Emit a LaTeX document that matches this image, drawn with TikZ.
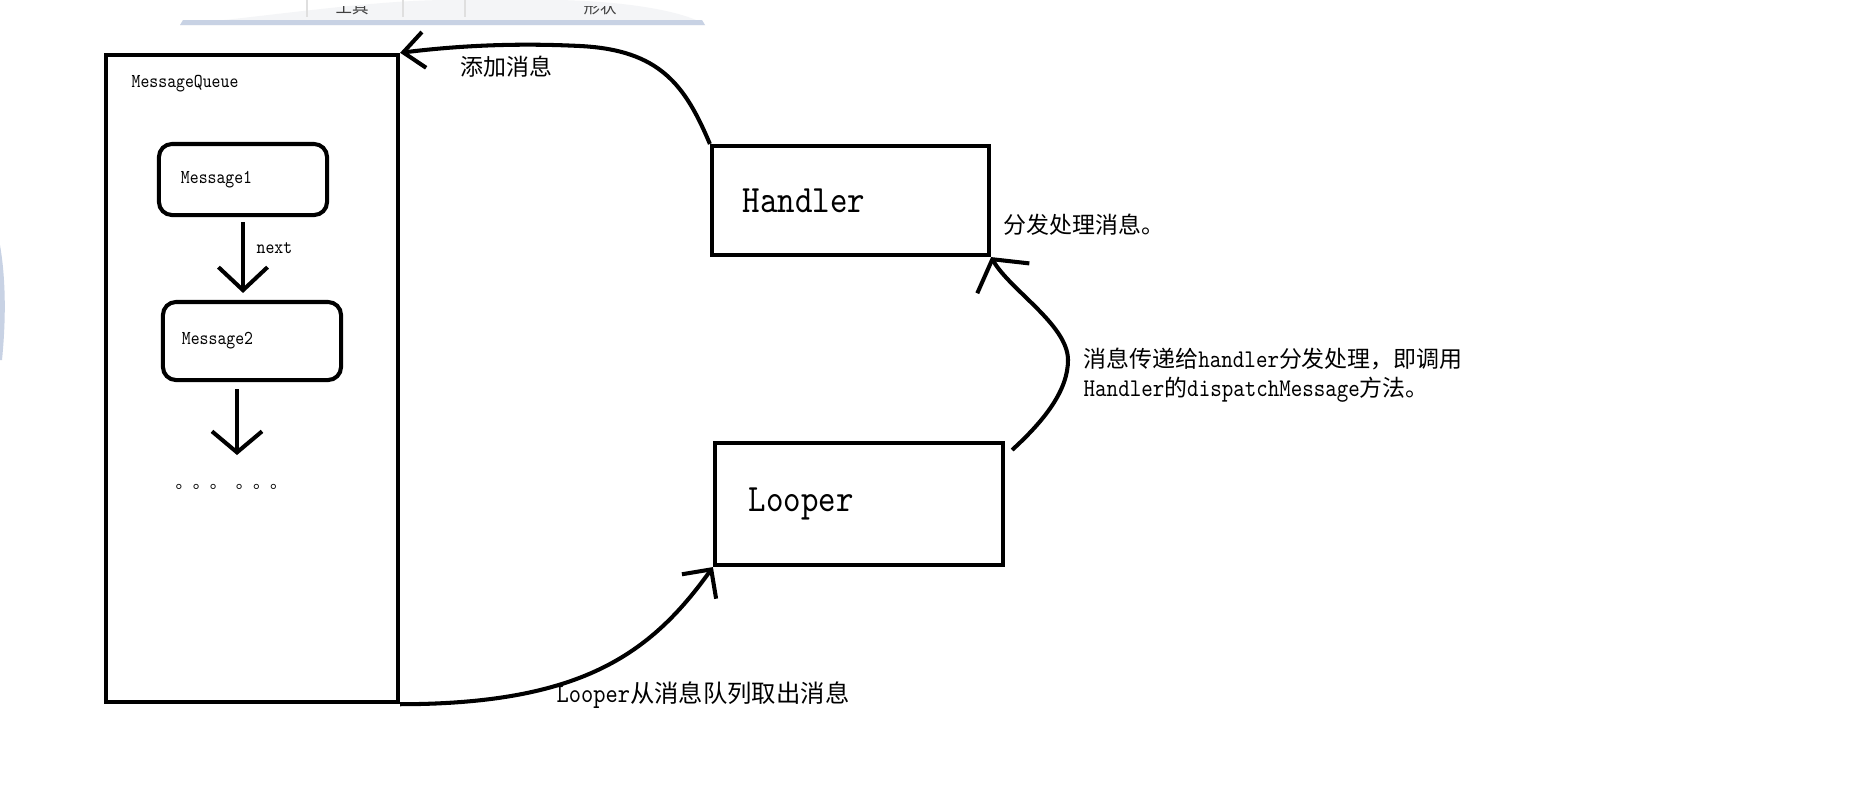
\documentclass[tikz,border=0pt]{standalone}
\usepackage{fontspec}
\setmonofont{lmmono10-regular}[Extension=.otf, FakeStretch=0.86]
\newfontfamily\cjk{Noto Sans CJK SC}[Scale=0.9]
\newcommand{\zh}[1]{{\cjk #1}}
\usetikzlibrary{arrows.meta}
\definecolor{ribbonfill}{RGB}{244,245,247}
\definecolor{ribbonedge}{RGB}{200,210,228}

\begin{document}
\begin{tikzpicture}[x = 0.01cm, y = -0.01cm,
  partbox/.style = {draw, line width = 1.15pt, align = left, inner ysep = 0},
  msgbox/.style = {partbox, rounded corners = 0.13cm, font = \ttfamily\fontsize{5.6}{6}\selectfont},
  bigbox/.style = {partbox, font = \ttfamily\fontsize{11}{12}\selectfont},
  notetext/.style = {anchor = base west, inner sep = 0, font = \ttfamily\fontsize{7.25}{8}\selectfont},
  tinytext/.style = {anchor = base west, inner sep = 0, font = \ttfamily\fontsize{5.6}{6}\selectfont},
  toollabel/.style = {anchor = base, inner sep = 0, text = black!75, font = \fontsize{5.2}{6}\selectfont},
  flowarrow/.style 2 args = {line width = 1.15pt, -{Straight Barb[length = #1, width = #2]}}]
\useasboundingbox (0, 0) rectangle (1870, 811);
\fill[white] (0, 0) rectangle (1870, 811);

% screenshot leftovers
\fill[ribbonfill] (180, 25) .. controls (300, 12) and (380, 0) .. (450, 0) -- (560, 0)
  .. controls (640, 2) and (690, 14) .. (705, 25) -- cycle;
\fill[ribbonedge] (183, 20) -- (702, 20) -- (705, 25) -- (180, 25) -- cycle;
\draw[gray!25, line width = 0.3pt] (307, 0) -- (307, 17);
\draw[gray!25, line width = 0.3pt] (403, 0) -- (403, 17);
\draw[gray!25, line width = 0.3pt] (465, 0) -- (465, 17);
\begin{scope}
\clip (180, 6) rectangle (705, 19);
\node[toollabel] (tools) at (352, 13) {\zh{工具}};
\node[toollabel] (shapes) at (600, 13) {\zh{形状}};
\end{scope}
\fill[ribbonedge] (0, 245) .. controls (6, 280) and (6, 320) .. (2, 360) -- (0, 360) -- cycle;

% message queue
\node[partbox, minimum width = 2.92cm, minimum height = 6.47cm] (queue) at (252, 378.5) {};
\node[tinytext] (queuename) at (131, 87) {MessageQueue};
\node[msgbox, text width = 1.24cm, inner xsep = 0.22cm, minimum height = 0.71cm] (msgone) at (243, 179.5) {Message1};
\node[msgbox, text width = 1.40cm, inner xsep = 0.19cm, minimum height = 0.78cm] (msgtwo) at (252, 341) {Message2};
\coordinate (more) at (237, 455);
\node[tinytext] (nextname) at (256, 253) {next};
\node[tinytext, font = \fontsize{5.4}{6}\selectfont] (dots) at (175, 488) {\zh{。。。\hspace{0.09cm}。。。}};

\draw[flowarrow = {0.23cm}{0.49cm}, shorten <= 0.05cm, shorten >= 0.07cm]
  (msgone.south) -- (msgone.south |- msgtwo.north);
\draw[flowarrow = {0.21cm}{0.50cm}, shorten <= 0.07cm] (msgtwo.south -| more) -- (more);

% handler and looper
\node[bigbox, text width = 2.15cm, inner xsep = 0.31cm, minimum height = 1.09cm] (handler) at (850.5, 200.5) {Handler};
\node[bigbox, text width = 2.20cm, inner xsep = 0.34cm, minimum height = 1.22cm] (looper) at (859, 504) {Looper};

\draw[flowarrow = {0.21cm}{0.36cm}] (handler.north west) .. controls (685, 85) and (660, 50) .. (580, 46)
  .. controls (500, 42) and (440, 48) .. (queue.north east);
\draw[flowarrow = {0.21cm}{0.42cm}] (queue.south east) .. controls (580, 704) and (650, 655) .. (looper.south west);
\draw[flowarrow = {0.22cm}{0.60cm}] ([shift = {(7, 9)}]looper.north east) .. controls (1045, 420) and (1068, 390) .. (1068, 360)
  .. controls (1068, 325) and (1010, 290) .. (handler.south east);

\node[notetext] (addname) at (460, 75) {\zh{添加消息}};
\node[notetext] (dispatchname) at (1003, 233) {\zh{分发处理消息。}};
\node[notetext, align = left] (passname) at (1083, 396)
  {\zh{消息传递给}handler\zh{分发处理，即调用}\\Handler\zh{的}dispatchMessage\zh{方法。}};
\node[notetext, font = \ttfamily\fontsize{7.7}{8}\selectfont] (takename) at (556, 702) {Looper\zh{从消息队列取出消息}};
\end{tikzpicture}
\end{document}
